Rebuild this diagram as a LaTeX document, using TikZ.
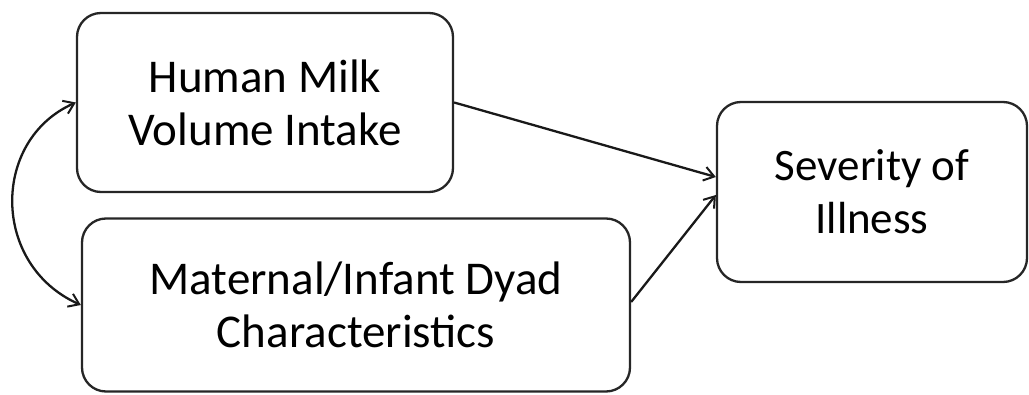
\documentclass[tikz,border=0pt]{standalone}
\usepackage{fontspec}
\setmainfont{Carlito}
\usetikzlibrary{arrows.meta}
\begin{document}
\begin{tikzpicture}[x=1pt,y=-1pt,
  box/.style={draw=black!85,line width=2.3pt,rounded corners=24pt,fill=white,align=center,
    font=\fontsize{47}{53}\selectfont,inner sep=0pt},
  tip/.tip={Straight Barb[length=10pt,width=14pt,line width=2pt]},
  conn/.style={line width=2.3pt,draw=black!90,-tip}]
\useasboundingbox (0,0) rectangle (1029,395);
\node[box,minimum width=376pt,minimum height=179pt] (b1) at (265,102.5) {Human Milk\\Volume Intake};
\node[box,minimum width=548pt,minimum height=173pt] (b2) at (356,305) {Maternal/Infant Dyad\\Characteristics};
\node[box,minimum width=310pt,minimum height=180pt,font=\fontsize{45}{53}\selectfont] (b3) at (872,192) {Severity of\\Illness};
\draw[conn] (b1.east) -- ([yshift=15pt]b3.west);
\draw[conn] ([yshift=3pt]b2.east) -- ([yshift=-3pt]b3.west);
\draw[conn,tip-tip] (b1.west) .. controls (-9,140) and (-9,265) .. (b2.west);
\end{tikzpicture}
\end{document}
